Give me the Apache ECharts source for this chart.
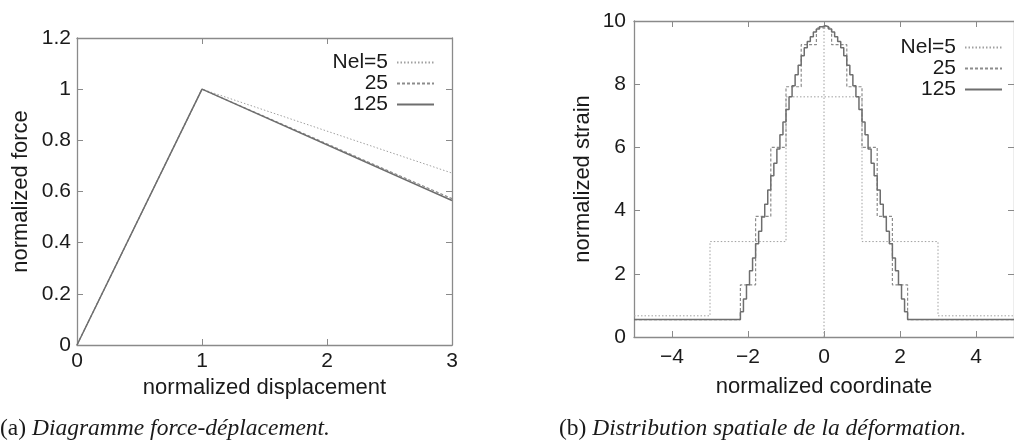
<!DOCTYPE html>
<html>
<head>
<meta charset="utf-8">
<script src="https://cdn.jsdelivr.net/npm/echarts@6/dist/echarts.min.js"></script>
<style>
  html, body { margin: 0; padding: 0; background: #fff; }
  #chart { width: 1014px; height: 443px; }
</style>
</head>
<body>
<div id="chart"></div>
<script>
// (a) force - displacement
const forceX = [0, 1, 3];
const forceNel5 = [0, 1, 0.672];
const forceNel25 = [0, 1, 0.572];
const forceNel125 = [0, 1, 0.565];

// (b) strain distribution, one value per element
const strainNel5 = [0.67, 3.02, 7.6, 3.02, 0.67];
const strainNel25 = [0.55, 0.55, 0.55, 0.55, 0.55, 0.55, 0.55, 1.65, 3.82, 6.0, 7.92, 9.25, 9.78,
    9.25, 7.92, 6.0, 3.82, 1.65, 0.55, 0.55, 0.55, 0.55, 0.55, 0.55, 0.55];
const strainBase125 = 0.55;
const strainNel125Core = [0.8, 1.2, 1.65, 2.1, 2.5, 2.95, 3.35, 3.8, 4.2, 4.65, 5.1, 5.5, 5.95, 6.4,
    6.8, 7.2, 7.6, 7.95, 8.3, 8.6, 8.9, 9.15, 9.35, 9.5, 9.65, 9.75, 9.82, 9.85, 9.82, 9.75, 9.65,
    9.5, 9.35, 9.15, 8.9, 8.6, 8.3, 7.95, 7.6, 7.2, 6.8, 6.4, 5.95, 5.5, 5.1, 4.65, 4.2, 3.8, 3.35,
    2.95, 2.5, 2.1, 1.65, 1.2, 0.8];
const strainPeakLine = [[0, 0], [0, 9.86]];

const seriesNames = ["Nel=5", "25", "125"];
const captionA = ["(a) ", "Diagramme force-déplacement."];
const captionB = ["(b) ", "Distribution spatiale de la déformation."];

const FONT = "Liberation Sans";
const TXT = "#1a1a1a";
const FRAME = "#8a8a8a";

// element values -> step points from -5 to 5
const stepPoints = (values) => {
    const w = 10 / values.length;
    const pts = values.map((v, i) => [-5 + i * w, v]);
    pts.push([5, values[values.length - 1]]);
    return pts;
};

const pad125 = (125 - strainNel125Core.length) / 2;
const strainNel125 = Array(pad125).fill(strainBase125)
    .concat(strainNel125Core, Array(pad125).fill(strainBase125));

const styles = {
    "Nel=5": { color: "#a0a0a0", width: 1, type: [1.5, 2] },
    "25": { color: "#8c8c8c", width: 1.2, type: [3, 2] },
    "125": { color: "#6e6e6e", width: 1.5, type: "solid" }
};

const axisBase = (extra) => Object.assign({
    type: "value",
    axisLine: { show: true, onZero: false, lineStyle: { color: FRAME, width: 1.3 } },
    axisTick: { show: true, inside: true, length: 6, lineStyle: { color: FRAME } },
    splitLine: { show: false },
    axisLabel: { show: true, color: TXT, fontSize: 21, fontFamily: FONT }
}, extra);

const mirror = (extra) => axisBase(Object.assign({ axisLabel: { show: false } }, extra));

const lineSeries = (name, data, xi, yi, step) => ({
    name: name,
    type: "line",
    xAxisIndex: xi,
    yAxisIndex: yi,
    data: data,
    step: step || false,
    symbol: "none",
    animation: false,
    lineStyle: styles[name],
    itemStyle: { color: styles[name].color }
});

const legendItem = (name, right, top) => ({
    data: [name],
    right: right,
    top: top,
    padding: 0,
    align: "right",
    selectedMode: false,
    itemWidth: 37,
    itemHeight: 10,
    itemStyle: { opacity: 0 },
    textStyle: { fontSize: 21, fontFamily: FONT, color: TXT, lineHeight: 20, padding: [0, 4, 0, 0] }
});

const nameStyle = { fontSize: 22, fontFamily: FONT, color: TXT };
const tickStyle = (margin) => ({ color: TXT, fontSize: 21, fontFamily: FONT, margin: margin });

const captionRich = {
    a: { fontFamily: "Liberation Serif", fontSize: 23.5, fill: TXT },
    b: { fontFamily: "Liberation Serif", fontSize: 23.5, fontStyle: "italic", fill: TXT }
};

const option = {
    backgroundColor: "#fff",
    animation: false,
    grid: [
        { left: 77, top: 38, width: 375, height: 307 },
        { left: 634, top: 21, width: 387, height: 316 }
    ],
    xAxis: [
        axisBase({ gridIndex: 0, min: 0, max: 3, interval: 1, name: "normalized displacement",
            nameLocation: "middle", nameGap: 31, nameTextStyle: nameStyle,
            axisLabel: tickStyle(6) }),
        mirror({ gridIndex: 0, min: 0, max: 3, interval: 1, position: "top" }),
        axisBase({ gridIndex: 1, min: -5, max: 5, interval: 2, name: "normalized coordinate",
            nameLocation: "middle", nameGap: 39, nameTextStyle: nameStyle,
            axisTick: { show: true, inside: true, length: 6, lineStyle: { color: FRAME },
                customValues: [-4, -2, 0, 2, 4] },
            axisLabel: Object.assign(tickStyle(10), {
                customValues: [-4, -2, 0, 2, 4],
                formatter: (v) => String(v).replace("-", "\u2212") }) }),
        mirror({ gridIndex: 1, min: -5, max: 5, position: "top",
            axisTick: { show: true, inside: true, length: 6, lineStyle: { color: FRAME },
                customValues: [-4, -2, 0, 2, 4] } })
    ],
    yAxis: [
        axisBase({ gridIndex: 0, min: 0, max: 1.2, interval: 0.2, name: "normalized force",
            nameLocation: "middle", nameGap: 45, nameTextStyle: nameStyle,
            axisLabel: Object.assign(tickStyle(6), { formatter: (v) => String(+v.toFixed(1)) }) }),
        mirror({ gridIndex: 0, min: 0, max: 1.2, interval: 0.2, position: "right" }),
        axisBase({ gridIndex: 1, min: 0, max: 10, interval: 2, name: "normalized strain",
            nameLocation: "middle", nameGap: 40, nameTextStyle: nameStyle,
            axisLabel: tickStyle(8) }),
        mirror({ gridIndex: 1, min: 0, max: 10, interval: 2, position: "right" })
    ],
    legend: [
        legendItem(seriesNames[0], 579, 52),
        legendItem(seriesNames[1], 579, 73),
        legendItem(seriesNames[2], 579, 94),
        legendItem(seriesNames[0], 11, 37),
        legendItem(seriesNames[1], 11, 58),
        legendItem(seriesNames[2], 11, 79)
    ],
    series: [
        lineSeries(seriesNames[0], forceX.map((x, i) => [x, forceNel5[i]]), 0, 0),
        lineSeries(seriesNames[1], forceX.map((x, i) => [x, forceNel25[i]]), 0, 0),
        lineSeries(seriesNames[2], forceX.map((x, i) => [x, forceNel125[i]]), 0, 0),
        lineSeries(seriesNames[0], stepPoints(strainNel5), 2, 2, "end"),
        Object.assign(lineSeries(seriesNames[0], strainPeakLine, 2, 2), { name: "peak" }),
        lineSeries(seriesNames[1], stepPoints(strainNel25), 2, 2, "end"),
        lineSeries(seriesNames[2], stepPoints(strainNel125), 2, 2, "end")
    ],
    graphic: [
        { type: "text", left: 0, top: 417, style: {
            text: "{a|" + captionA[0] + "}{b|" + captionA[1] + "}", rich: captionRich } },
        { type: "text", left: 559, top: 417, style: {
            text: "{a|" + captionB[0] + "}{b|" + captionB[1] + "}", rich: captionRich } }
    ]
};

const initChart = () => {
    const myChart = echarts.init(document.getElementById("chart"));
    myChart.setOption(option);
};

window.addEventListener("load", initChart);
</script>
</body>
</html>
